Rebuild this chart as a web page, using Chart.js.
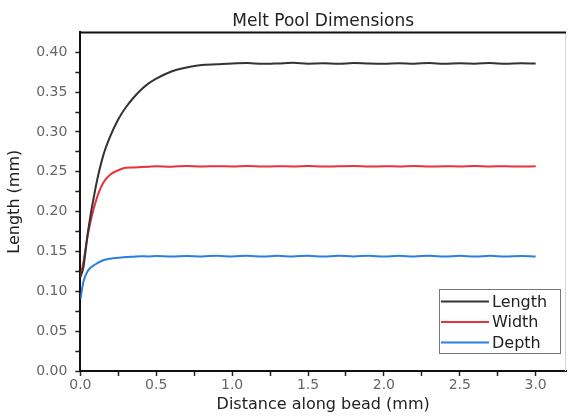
<!DOCTYPE html>
<html>
<head>
<meta charset="utf-8">
<script src="https://cdn.jsdelivr.net/npm/chart.js@4"></script>
<style>
  html, body { margin: 0; padding: 0; background: #fff; }
  #wrap { width: 570px; height: 417px; }
</style>
</head>
<body>
<div id="wrap"><canvas id="grafico" width="570" height="417"></canvas></div>
<script>
// distancia ao longo do cordao (mm)
const distancia = [0, 0.02, 0.05, 0.1, 0.15, 0.2, 0.25, 0.3, 0.35, 0.4, 0.45, 0.5, 0.6, 0.7, 0.8, 0.9, 1.0,
  1.1, 1.2, 1.3, 1.4, 1.5, 1.6, 1.7, 1.8, 1.9, 2.0, 2.1, 2.2, 2.3, 2.4, 2.5, 2.6, 2.7, 2.8, 2.9, 3.0]

// valores (mm)
const comprimento = [0.118, 0.130, 0.175, 0.230, 0.270, 0.296, 0.316, 0.331, 0.343, 0.353, 0.361, 0.367, 0.376, 0.381, 0.384, 0.385, 0.386,
  0.3865, 0.3855, 0.386, 0.3868, 0.3858, 0.3862, 0.3855, 0.3866, 0.386, 0.3857, 0.3864, 0.3858, 0.3866, 0.3856, 0.3862, 0.3858, 0.3865, 0.3857, 0.3862, 0.386]
const largura = [0.118, 0.137, 0.172, 0.212, 0.236, 0.247, 0.252, 0.255, 0.2555, 0.256, 0.2565, 0.257, 0.2565, 0.2572, 0.2566, 0.2571, 0.2567,
  0.2572, 0.2566, 0.257, 0.2567, 0.2572, 0.2566, 0.257, 0.2573, 0.2566, 0.257, 0.2567, 0.2572, 0.2566, 0.257, 0.2567, 0.2572, 0.2567, 0.257, 0.2566, 0.257]
const profundidade = [0.090, 0.112, 0.126, 0.134, 0.139, 0.141, 0.142, 0.143, 0.1435, 0.144, 0.1438, 0.1442, 0.1437, 0.1445, 0.1438, 0.1446, 0.1437,
  0.1447, 0.1436, 0.1446, 0.1437, 0.1447, 0.1436, 0.1446, 0.1438, 0.1447, 0.1436, 0.1446, 0.1437, 0.1447, 0.1436, 0.1446, 0.1437, 0.1446, 0.1436, 0.1445, 0.1438]

// marcas dos eixos (as com rotulo e as intermedias)
const ticksX = [0, 0.25, 0.5, 0.75, 1.0, 1.25, 1.5, 1.75, 2.0, 2.25, 2.5, 2.75, 3.0]
const rotulosX = ['0.0', '', '0.5', '', '1.0', '', '1.5', '', '2.0', '', '2.5', '', '3.0']
const ticksY = [0, 0.025, 0.05, 0.075, 0.1, 0.125, 0.15, 0.175, 0.2, 0.225, 0.25, 0.275, 0.3, 0.325, 0.35, 0.375, 0.4]
const rotulosY = ['0.00', '', '0.05', '', '0.10', '', '0.15', '', '0.20', '', '0.25', '', '0.30', '', '0.35', '', '0.40']

const series = [
  { label: 'Length', valores: comprimento, cor: '#333333' },
  { label: 'Width', valores: largura, cor: '#e8333c' },
  { label: 'Depth', valores: profundidade, cor: '#2b7fdf' }
]

const fonte = '"DejaVu Sans", Verdana, sans-serif'

// moldura de cima e da direita
const moldura = {
  id: 'moldura',
  afterDatasetsDraw(chart) {
    const { ctx, chartArea: a } = chart
    ctx.save()
    ctx.strokeStyle = '#d5d5d5'
    ctx.lineWidth = 1
    ctx.beginPath()
    ctx.moveTo(a.right - 0.5, a.top)
    ctx.lineTo(a.right - 0.5, a.bottom)
    ctx.stroke()
    ctx.strokeStyle = '#111'
    ctx.lineWidth = 2
    ctx.beginPath()
    ctx.moveTo(a.left, a.top)
    ctx.lineTo(a.right, a.top)
    ctx.stroke()
    ctx.restore()
  }
}

// legenda dentro da area do grafico
const legendaInterna = {
  id: 'legendaInterna',
  afterDatasetsDraw(chart) {
    const { ctx, chartArea: a } = chart
    const w = 121, h = 64
    const x = a.right - 6 - w, y = a.bottom - 18 - h
    ctx.save()
    ctx.fillStyle = '#fff'
    ctx.fillRect(x, y, w, h)
    ctx.strokeStyle = '#777'
    ctx.lineWidth = 1
    ctx.strokeRect(x + 0.5, y + 0.5, w, h)
    ctx.font = '16px ' + fonte
    ctx.textBaseline = 'middle'
    chart.data.datasets.forEach((ds, i) => {
      const yy = y + 12.5 + i * 20.5
      ctx.strokeStyle = ds.borderColor
      ctx.lineWidth = 2
      ctx.beginPath()
      ctx.moveTo(x + 2, yy)
      ctx.lineTo(x + 50, yy)
      ctx.stroke()
      ctx.fillStyle = '#222'
      ctx.fillText(ds.label, x + 53, yy + 1)
    })
    ctx.restore()
  }
}

new Chart(document.getElementById('grafico'), {
  type: 'line',
  data: {
    datasets: series.map(s => ({
      label: s.label,
      data: distancia.map((d, i) => ({ x: d, y: s.valores[i] })),
      borderColor: s.cor,
      backgroundColor: s.cor,
      borderWidth: 2,
      pointRadius: 0,
      cubicInterpolationMode: 'monotone'
    }))
  },
  plugins: [moldura, legendaInterna],
  options: {
    responsive: false,
    animation: false,
    layout: { padding: { top: 2, right: 4, left: 5, bottom: 3 } },
    plugins: {
      legend: { display: false },
      tooltip: { enabled: false },
      title: {
        display: true,
        text: 'Melt Pool Dimensions',
        fullSize: false,
        color: '#222',
        font: { family: fonte, size: 17, weight: 'normal' },
        padding: { top: 9, bottom: 1 }
      }
    },
    scales: {
      x: {
        type: 'linear',
        min: 0,
        max: 3.2,
        afterBuildTicks: scale => {
          scale.ticks = ticksX.map(v => ({ value: v }))
        },
        ticks: {
          autoSkip: false,
          maxRotation: 0,
          color: '#666',
          padding: 1,
          font: { family: fonte, size: 14 },
          callback: (v, i) => rotulosX[i]
        },
        grid: { drawOnChartArea: false, tickLength: 5, tickColor: '#222', tickWidth: 1.5 },
        border: { color: '#111', width: 2 },
        title: {
          display: true,
          text: 'Distance along bead (mm)',
          color: '#222',
          font: { family: fonte, size: 16 },
          padding: { top: 0, bottom: 0 }
        }
      },
      y: {
        min: 0,
        max: 0.425,
        afterBuildTicks: scale => {
          scale.ticks = ticksY.map(v => ({ value: v }))
        },
        ticks: {
          autoSkip: false,
          color: '#666',
          padding: 8,
          font: { family: fonte, size: 14 },
          callback: (v, i) => rotulosY[i]
        },
        grid: { drawOnChartArea: false, tickLength: 5, tickColor: '#222', tickWidth: 1.5 },
        border: { color: '#111', width: 2 },
        title: {
          display: true,
          text: 'Length (mm)',
          color: '#222',
          font: { family: fonte, size: 16 },
          padding: { top: 0, bottom: 4 }
        }
      }
    }
  }
})
</script>
</body>
</html>
